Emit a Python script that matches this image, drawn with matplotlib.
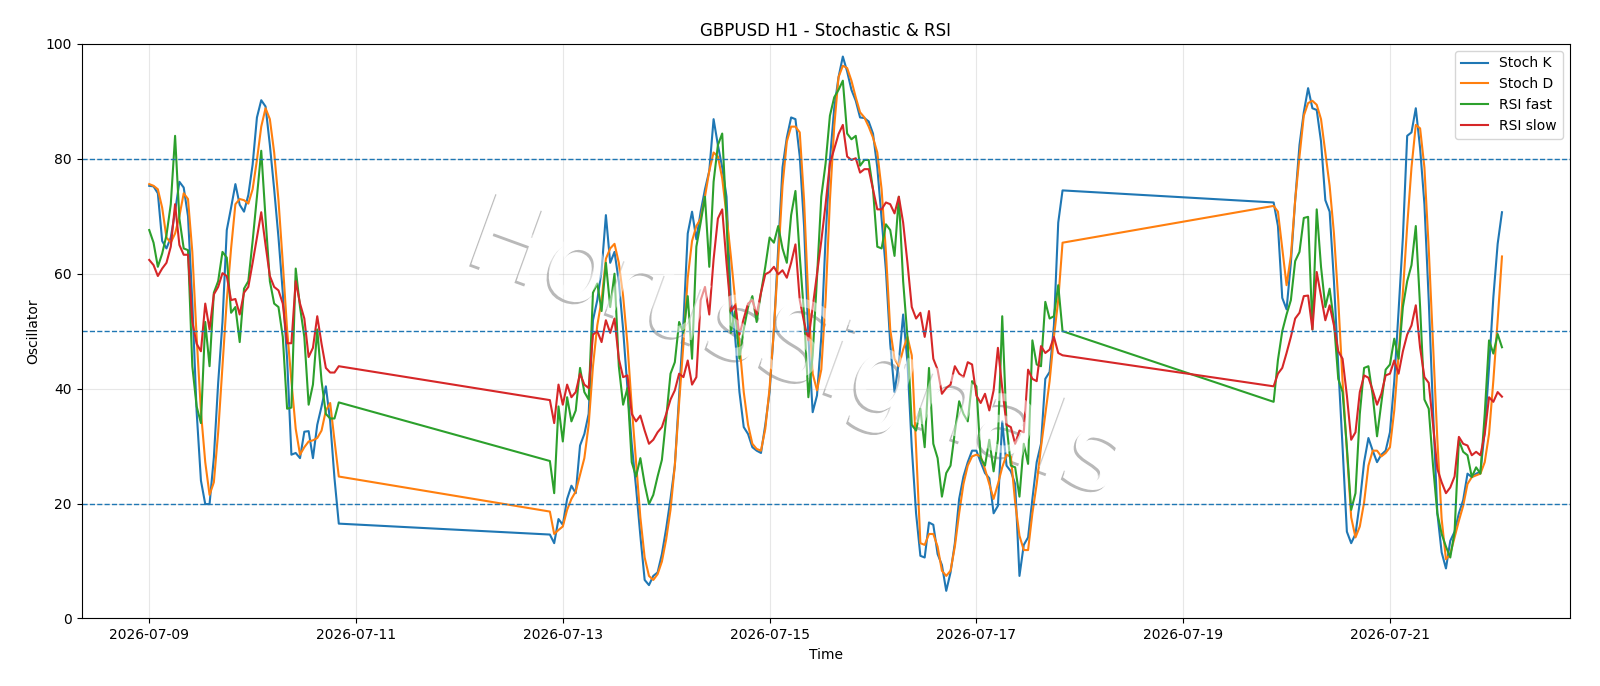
import matplotlib
matplotlib.use("Agg")
from matplotlib import pyplot as plt
import matplotlib.dates as mdates
import matplotlib.patheffects as pe
import pandas as pd

# hourly bars, three trading blocks (weekend gaps between them)
seg_a = pd.date_range("2026-07-09 00:00", "2026-07-10 20:00", freq="h")
seg_b = pd.date_range("2026-07-12 21:00", "2026-07-17 20:00", freq="h")
seg_c = pd.date_range("2026-07-19 21:00", "2026-07-22 02:00", freq="h")

stoch_k_a = [75.3, 75.2, 74.0, 65.7, 64.4, 66.3, 70.8, 76.0, 75.0, 70.0, 55.0, 36.0, 24.0, 19.9, 19.9,
             28.0, 41.0, 51.6, 67.6, 71.5, 75.6, 72.0, 70.8, 73.7, 79.0, 87.2, 90.2, 89.1, 82.4, 74.7,
             66.3, 56.7, 45.2, 28.5, 28.8, 27.9, 32.5, 32.6, 27.9, 33.7, 36.9, 40.4, 34.3, 24.4, 16.5]
stoch_d_a = [75.6, 75.3, 74.7, 71.5, 66.3, 65.4, 67.0, 70.0, 74.0, 73.0, 63.8, 49.0, 36.0, 27.2, 21.5,
             23.7, 32.4, 43.9, 55.4, 64.4, 72.1, 73.0, 72.8, 72.2, 74.7, 79.8, 85.6, 88.8, 86.9, 81.1,
             72.8, 61.9, 50.3, 41.3, 33.0, 28.5, 29.8, 30.8, 31.0, 31.4, 32.7, 36.2, 37.5, 31.0, 24.7]
rsi_fast_a = [67.6, 65.4, 61.2, 63.5, 66.7, 72.1, 84.0, 69.6, 64.4, 64.1, 43.9, 36.9, 34.0, 51.6, 43.9,
              56.7, 58.7, 63.8, 62.8, 53.2, 54.2, 48.1, 57.4, 58.7, 65.7, 73.4, 81.4, 69.6, 58.7, 54.8,
              54.2, 49.0, 36.5, 36.7, 60.9, 54.2, 49.0, 37.2, 40.7, 50.3, 41.3, 35.6, 34.8, 34.8, 37.6]
rsi_slow_a = [62.4, 61.5, 59.6, 60.9, 61.9, 64.7, 72.1, 65.0, 63.3, 63.3, 51.6, 47.8, 46.5, 54.8, 50.3,
              56.4, 57.7, 60.1, 59.6, 55.4, 55.6, 52.9, 56.7, 57.7, 61.9, 66.3, 70.7, 65.0, 59.6, 57.7,
              57.1, 54.8, 47.9, 47.9, 58.7, 54.8, 52.2, 45.5, 47.1, 52.6, 47.8, 43.6, 42.8, 42.8, 43.9]

stoch_k_b = [14.6, 13.1, 17.3,
             16.3, 20.8, 23.1, 21.8, 30.1, 32.1, 35.6, 51.9, 55.4, 60.6,
             70.2, 61.9, 63.8, 58.7, 50.3, 40.1, 30.4, 22.8, 14.4, 6.7,
             5.8, 7.4, 8.0, 11.2, 15.7, 20.8, 26.6, 38.8, 51.6, 67.0,
             70.8, 66.0, 70.8, 74.7, 77.9, 86.9, 82.4, 78.5, 73.4, 55.4,
             49.0, 39.4, 33.3, 32.1, 29.8, 29.2, 28.8, 33.7, 39.4, 50.3,
             64.4, 78.5, 83.7, 87.2, 86.9, 80.4, 68.3, 49.0, 35.9, 38.8,
             49.0, 66.3, 79.8, 88.8, 94.2, 97.8, 95.2, 92.0, 90.1, 87.2,
             87.1, 86.5, 84.4, 78.5, 69.6, 60.6, 47.8, 39.4, 44.6, 52.9,
             44.6, 29.8, 18.3, 10.9, 10.6, 16.7, 16.3, 11.2, 9.3, 4.8,
             8.0, 13.1, 20.8, 24.7, 27.2, 29.2, 29.2, 27.2, 25.3, 24.4,
             18.3, 19.6, 34.3, 26.6, 25.6, 23.4, 7.4, 12.8, 14.1, 20.8,
             27.2, 30.4, 41.7, 42.9, 51.0, 68.9, 74.5]
stoch_d_b = [18.6, 14.7, 15.4,
             16.0, 18.9, 20.8, 22.1, 25.0, 27.9, 33.7, 43.9, 51.0, 55.4,
             62.6, 64.4, 65.2, 61.9, 56.1, 47.8, 36.9, 27.2, 17.6, 10.6,
             7.4, 6.7, 7.7, 9.9, 13.8, 18.9, 26.6, 37.5, 47.8, 59.3,
             65.7, 68.3, 69.6, 73.4, 77.9, 81.1, 80.4, 76.6, 70.2, 63.1,
             55.4, 47.8, 39.4, 33.7, 30.4, 29.5, 29.2, 33.0, 40.1, 50.3,
             62.5, 75.3, 83.0, 85.6, 85.6, 84.6, 72.8, 55.4, 42.6, 39.7,
             43.3, 55.4, 72.8, 85.6, 94.2, 96.2, 95.8, 93.6, 90.7, 88.1,
             87.2, 85.6, 83.7, 81.1, 74.7, 63.8, 50.3, 45.2, 43.9, 46.8,
             49.0, 45.8, 29.8, 13.1, 12.8, 14.7, 14.7, 12.5, 8.3, 7.4,
             8.3, 12.5, 18.3, 23.4, 26.6, 28.2, 28.5, 28.2, 26.0, 23.4,
             20.8, 23.4, 26.3, 28.5, 28.2, 20.2, 14.4, 11.9, 11.9, 18.3,
             23.4, 29.8, 35.6, 41.3, 49.0, 55.4, 65.4]
rsi_fast_b = [27.4, 21.8, 36.9,
              30.8, 38.5, 34.3, 36.2, 43.6, 39.4, 38.1, 56.7, 58.3, 53.5,
              61.9, 54.2, 60.0, 43.9, 37.2, 40.1, 27.2, 24.7, 27.9, 23.4,
              19.9, 21.5, 24.7, 27.6, 34.9, 42.6, 44.6, 51.6, 49.7, 56.1,
              45.2, 64.7, 68.9, 73.4, 61.2, 76.0, 82.4, 84.4, 69.6, 49.7,
              53.5, 45.2, 50.3, 54.2, 56.1, 51.6, 56.7, 61.2, 66.3, 65.4,
              68.3, 64.4, 61.9, 70.2, 74.4, 63.1, 52.9, 38.5, 45.8, 59.3,
              73.4, 79.2, 87.5, 90.7, 92.0, 93.6, 84.4, 83.4, 84.0, 78.8,
              79.8, 79.8, 74.7, 64.7, 64.4, 68.6, 67.6, 63.1, 73.4, 58.7,
              49.0, 33.7, 32.7, 36.5, 29.8, 43.6, 30.4, 27.9, 21.2, 25.3,
              26.6, 32.4, 37.8, 35.6, 34.3, 41.3, 40.4, 27.9, 26.6, 31.1,
              25.6, 31.1, 52.6, 33.7, 26.6, 26.3, 21.2, 30.4, 26.9, 48.4,
              44.2, 43.9, 55.1, 52.2, 52.6, 58.0, 50.0]
rsi_slow_b = [38.0, 34.0, 40.7,
              37.2, 40.7, 38.5, 39.4, 42.6, 40.7, 40.1, 49.4, 50.0, 48.1,
              51.9, 49.7, 52.2, 45.2, 42.0, 42.3, 35.6, 34.3, 35.3, 32.7,
              30.4, 31.1, 32.4, 33.3, 35.6, 38.1, 39.7, 42.6, 42.0, 44.9,
              40.7, 42.0, 55.4, 57.7, 52.9, 62.5, 69.6, 71.2, 61.9, 53.5,
              54.5, 49.4, 52.2, 54.8, 55.4, 52.9, 56.7, 59.9, 60.3, 61.2,
              59.9, 60.6, 59.3, 61.9, 65.1, 55.4, 51.6, 48.4, 54.2, 59.9,
              65.7, 72.1, 79.2, 81.7, 84.3, 85.9, 80.4, 79.8, 80.1, 77.6,
              78.2, 78.2, 74.7, 71.2, 71.2, 72.4, 72.1, 70.5, 73.4, 68.9,
              61.9, 54.2, 52.2, 53.2, 49.0, 53.5, 45.2, 43.3, 39.1, 40.1,
              40.7, 43.9, 42.6, 42.0, 44.6, 44.2, 38.8, 37.5, 39.1, 36.2,
              39.7, 47.1, 40.1, 33.7, 33.3, 30.4, 32.7, 32.4, 43.3, 41.7,
              41.3, 47.4, 46.2, 46.8, 49.0, 46.2, 45.8]

stoch_k_c = [72.4, 68.3, 55.8, 53.8, 61.9, 72.8, 82.4, 88.1, 92.3, 88.8,
             88.5, 83.0, 72.8, 70.8, 58.7, 43.9, 29.8, 15.1, 13.1, 14.7,
             20.2, 27.2, 31.4, 29.2, 27.2, 28.5, 29.2, 32.4, 41.3, 53.5,
             66.3, 84.0, 84.6, 88.8, 81.8, 72.1, 55.4, 36.2, 18.3, 11.5,
             8.7, 13.5, 15.1, 18.3, 20.6, 25.2, 24.6, 25.2, 25.5, 32.7,
             43.7, 55.9, 65.2, 70.7]
stoch_d_c = [71.8, 70.8, 64.4, 58.0, 63.1, 72.8, 80.4, 87.5, 89.7, 90.1,
             89.4, 86.9, 81.1, 75.3, 67.0, 55.4, 41.3, 29.2, 17.6, 14.1,
             16.0, 20.2, 26.6, 29.2, 29.2, 28.2, 28.8, 29.8, 36.2, 45.8,
             56.7, 68.3, 78.5, 85.9, 85.3, 78.5, 64.4, 47.8, 31.1, 17.3,
             10.3, 11.2, 14.1, 17.0, 19.6, 23.4, 24.6, 24.9, 25.2, 27.2,
             32.1, 41.4, 51.9, 63.0]
rsi_fast_c = [37.7, 45.0, 50.0, 52.9, 55.4, 62.2, 63.8, 69.7, 69.9, 50.3,
              71.2, 61.2, 54.2, 57.4, 51.6, 41.7, 39.4, 29.8, 18.9, 21.8,
              35.6, 43.6, 43.9, 38.8, 31.7, 37.5, 43.3, 44.2, 48.7, 45.2,
              54.2, 58.7, 61.5, 68.3, 54.2, 38.1, 36.5, 26.6, 18.3, 14.7,
              12.5, 10.6, 15.1, 31.0, 29.0, 28.4, 24.6, 26.3, 25.2, 35.6,
              48.4, 46.1, 49.5, 47.2]
rsi_slow_c = [40.4, 42.6, 43.6, 46.2, 49.0, 52.2, 53.2, 56.1, 56.2, 50.3,
              60.3, 56.1, 51.9, 54.5, 51.0, 46.5, 45.2, 38.8, 31.1, 32.4,
              39.4, 42.3, 41.9, 39.7, 37.2, 39.1, 42.3, 42.6, 44.9, 42.6,
              46.5, 49.4, 51.0, 54.5, 47.1, 42.0, 41.0, 33.7, 26.0, 23.7,
              21.8, 22.8, 24.7, 31.6, 30.4, 30.1, 28.4, 29.0, 28.4, 32.1,
              38.5, 37.7, 39.4, 38.6]

levels = [80, 50, 20]

time = seg_a.append(seg_b).append(seg_c)
stoch_k = stoch_k_a + stoch_k_b + stoch_k_c
stoch_d = stoch_d_a + stoch_d_b + stoch_d_c
rsi_fast = rsi_fast_a + rsi_fast_b + rsi_fast_c
rsi_slow = rsi_slow_a + rsi_slow_b + rsi_slow_c

fig = plt.figure(figsize=(16, 6.86), dpi=100)
ax = fig.add_axes([0.051, 0.0985, 0.930, 0.8375])

ax.plot(time, stoch_k, label="Stoch K", lw=1.5)
ax.plot(time, stoch_d, label="Stoch D", lw=1.5)
ax.plot(time, rsi_fast, label="RSI fast", lw=1.5)
ax.plot(time, rsi_slow, label="RSI slow", lw=1.5)
for lv in levels:
    ax.axhline(lv, color="#1f77b4", linestyle="--", lw=1)

ax.set_ylim(0, 100)
ax.set_xticks(pd.date_range("2026-07-09", "2026-07-21", freq="2D"))
ax.xaxis.set_major_formatter(mdates.DateFormatter("%Y-%m-%d"))
ax.grid(True, alpha=0.3)
ax.set_title("GBPUSD H1 - Stochastic & RSI")
ax.set_xlabel("Time")
ax.set_ylabel("Oscillator")
ax.legend(loc="upper right")

# watermark: shadow + white fill under the lines, a light veil over them
wm = dict(s="HorusSignals", fontsize=76, rotation=-20, ha="center", va="center",
          transform=fig.transFigure)
ax.text(0.497, 0.488, color="white", zorder=0.5,
        path_effects=[pe.withSimplePatchShadow(offset=(-1.6, -1.6), shadow_rgbFace="gray", alpha=0.55)],
        **wm)
fig.text(0.497, 0.488, color="white", alpha=0.5, **{k: v for k, v in wm.items() if k != "transform"})

fig.savefig("out.png", dpi=100)
